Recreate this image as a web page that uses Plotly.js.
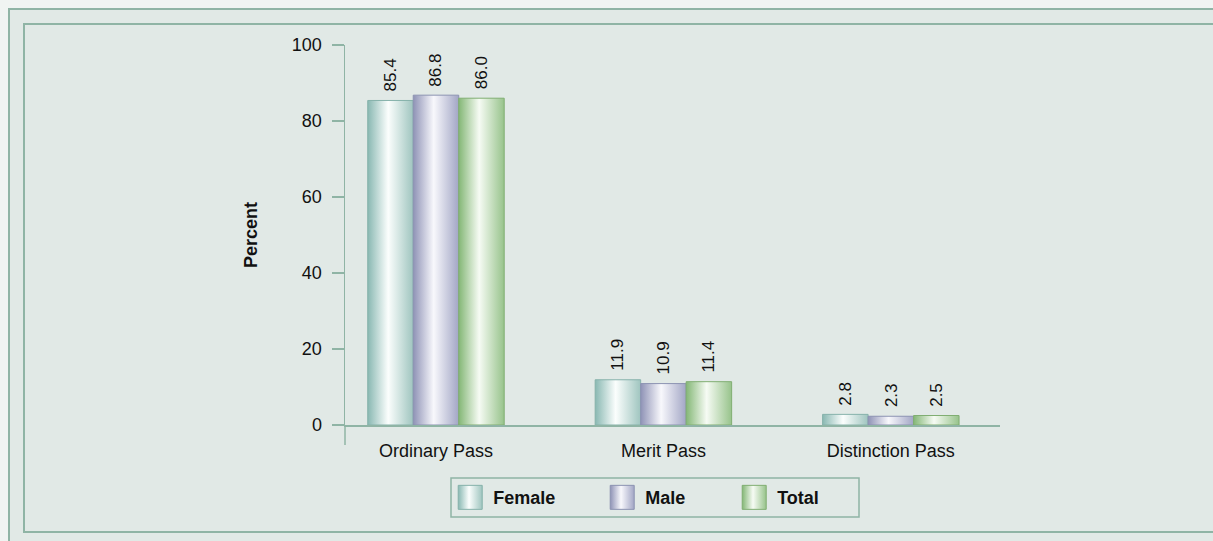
<!DOCTYPE html>
<html>
<head>
<meta charset="utf-8">
<script src="https://cdn.plot.ly/plotly-3.0.1.min.js"></script>
<style>
  html, body { margin:0; padding:0; width:1213px; height:541px; overflow:hidden; background:#f0f4f2; }
  #outer { position:absolute; left:8px; top:8px; width:1300px; height:700px; border:2px solid #8fb4a5; background:#e1e9e6; box-sizing:border-box; }
  #inner { position:absolute; left:23px; top:23px; width:1300px; height:510px; border:2px solid #8fb4a5; background:#e1e9e6; box-sizing:border-box; }
  #chart { position:absolute; left:0; top:0; width:1213px; height:541px; }
</style>
</head>
<body>
<div id="outer"></div>
<div id="inner"></div>
<svg width="0" height="0" style="position:absolute">
  <defs>
    <linearGradient id="g0" x1="0" y1="0" x2="1" y2="0">
      <stop offset="0" stop-color="#89b8b2"/>
      <stop offset="0.45" stop-color="#fbfefd"/>
      <stop offset="1" stop-color="#9fc5bf"/>
    </linearGradient>
    <linearGradient id="g1" x1="0" y1="0" x2="1" y2="0">
      <stop offset="0" stop-color="#8f93b6"/>
      <stop offset="0.45" stop-color="#f8f8fc"/>
      <stop offset="1" stop-color="#a2a6c5"/>
    </linearGradient>
    <linearGradient id="g2" x1="0" y1="0" x2="1" y2="0">
      <stop offset="0" stop-color="#84b776"/>
      <stop offset="0.45" stop-color="#f6fbf4"/>
      <stop offset="1" stop-color="#97c38b"/>
    </linearGradient>
  </defs>
</svg>
<div id="chart"></div>
<script>
const categories = ['Ordinary Pass', 'Merit Pass', 'Distinction Pass'];
const female = [85.4, 11.9, 2.8];
const male = [86.8, 10.9, 2.3];
const total = [86.0, 11.4, 2.5];
const seriesNames = ['Female', 'Male', 'Total'];
const yTicks = [0, 20, 40, 60, 80, 100];

const series = [female, male, total];
const baseColors = ['#a9ccc7', '#b3b6d0', '#a8cf9d'];
const lineColors = ['#86b2ab', '#8c93b2', '#80ae72'];
const legendWidths = [107, 87, 60];
const FONT = 'Arial, "Liberation Sans", sans-serif';

const traces = series.map((vals, i) => ({
  type: 'bar',
  name: seriesNames[i],
  x: categories,
  y: vals,
  marker: { color: baseColors[i], line: { color: lineColors[i], width: 1 } },
  legendwidth: legendWidths[i],
  hoverinfo: 'skip'
}));

const barW = 0.2;
const annotations = [];
series.forEach((vals, i) => {
  vals.forEach((v, c) => {
    annotations.push({
      x: c + (i - 1) * barW, y: v, xref: 'x', yref: 'y',
      text: v.toFixed(1), showarrow: false, textangle: -90,
      xanchor: 'center', yanchor: 'bottom', yshift: 7,
      font: { family: FONT, size: 17, color: '#111' }
    });
  });
});
annotations.push({
  xref: 'paper', yref: 'paper', x: -0.1435, y: 0.5,
  text: 'Percent', showarrow: false, textangle: -90,
  xanchor: 'center', yanchor: 'middle',
  font: { family: FONT, size: 18, color: '#111', weight: 'bold' }
});

const lineCol = '#8fb4a5';
const layout = {
  width: 1213, height: 541,
  margin: { l: 345, r: 213, t: 45, b: 116, pad: 0 },
  paper_bgcolor: 'rgba(0,0,0,0)',
  plot_bgcolor: 'rgba(0,0,0,0)',
  barmode: 'group', bargap: 0.4, bargroupgap: 0,
  showlegend: true,
  legend: {
    orientation: 'h', x: 0.1652, y: -0.1425, xanchor: 'left', yanchor: 'top',
    bgcolor: 'rgba(0,0,0,0)', borderwidth: 0,
    font: { family: FONT, size: 18, color: '#111', weight: 'bold' },
    traceorder: 'normal'
  },
  xaxis: {
    type: 'category', range: [-0.4, 2.48], fixedrange: true,
    showline: true, linecolor: lineCol, linewidth: 1.5,
    ticks: 'outside', ticklen: 9, tickcolor: 'rgba(0,0,0,0)',
    showgrid: false, zeroline: false,
    tickfont: { family: FONT, size: 18, color: '#111' }
  },
  yaxis: {
    range: [0, 100], tickvals: yTicks, ticktext: yTicks.map(String), fixedrange: true,
    showline: true, linecolor: lineCol, linewidth: 1.5,
    ticks: 'outside', ticklen: 12, tickcolor: lineCol, tickwidth: 1.5,
    ticklabelstandoff: 6,
    showgrid: false, zeroline: false,
    tickfont: { family: FONT, size: 18, color: '#111' }
  },
  annotations: annotations,
  shapes: [
    { type: 'line', xref: 'paper', yref: 'paper', x0: 0, x1: 0, y0: -20/380, y1: 0,
      line: { color: lineCol, width: 1.5 } },
    { type: 'rect', xref: 'paper', yref: 'paper', x0: 106/655, x1: 514/655,
      y0: -(478-425)/380, y1: -(517-425)/380,
      line: { color: lineCol, width: 1.5 }, fillcolor: 'rgba(0,0,0,0)', layer: 'below' }
  ]
};

function decorate(gd) {
  gd.querySelectorAll('.barlayer .trace.bars').forEach((tr, i) => {
    tr.querySelectorAll('path').forEach(p => { p.style.fill = 'url(#g' + i + ')'; });
  });
  gd.querySelectorAll('.legend .traces').forEach((t, i) => {
    const p = t.querySelector('.legendpoints path');
    if (!p) return;
    p.style.fill = 'url(#g' + i + ')';
    if (!p.dataset.scaled) {
      const tf = p.getAttribute('transform') || '';
      p.setAttribute('transform', 'translate(-3,0) ' + tf + ' scale(2)');
      p.style.strokeWidth = '0.5px';
      p.dataset.scaled = '1';
    }
  });
}

const gd = document.getElementById('chart');
Plotly.newPlot(gd, traces, layout, { displayModeBar: false, staticPlot: true }).then(() => {
  decorate(gd);
  gd.on && gd.on('plotly_afterplot', () => decorate(gd));
});
</script>
</body>
</html>
